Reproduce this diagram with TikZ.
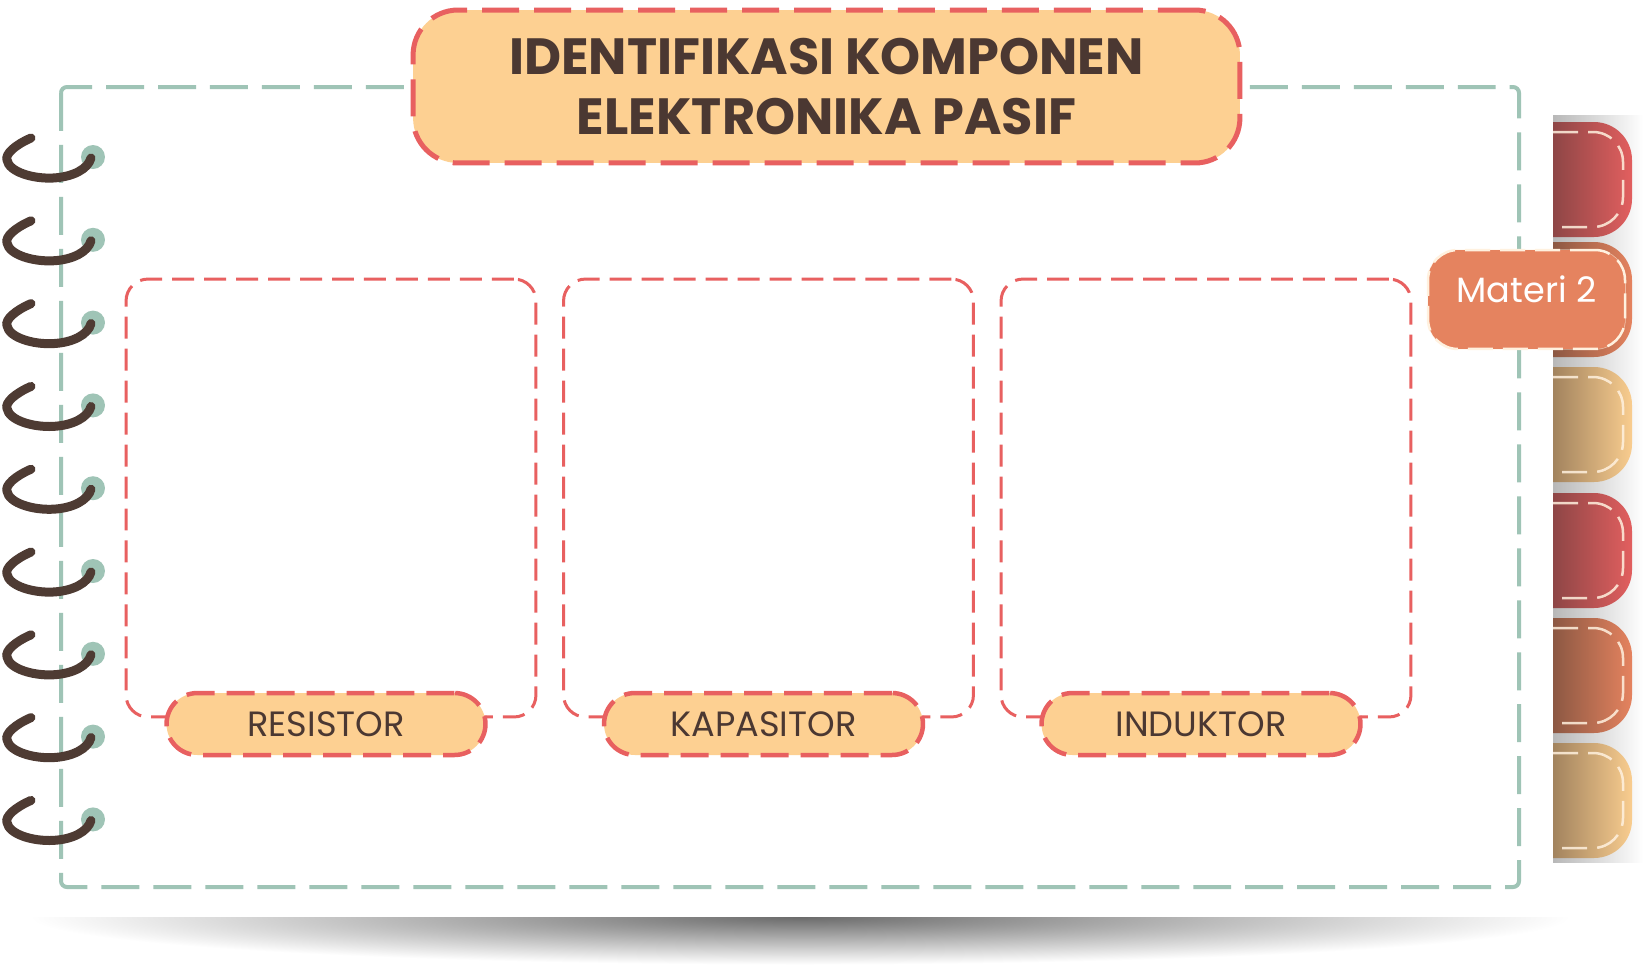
\documentclass[tikz,border=0pt]{standalone}
\usepackage{fontspec}
\setmainfont{Poppins}
\usetikzlibrary{calc}
\definecolor{sage}{HTML}{9FC4B6}
\definecolor{dashred}{HTML}{E86060}
\definecolor{peach}{HTML}{FDD092}
\definecolor{ink}{HTML}{4B3832}
\definecolor{hookbrown}{HTML}{4E3B33}
\definecolor{redL}{HTML}{8E4646}
\definecolor{redR}{HTML}{E25F5F}
\definecolor{orL}{HTML}{8C5843}
\definecolor{orR}{HTML}{E5835F}
\definecolor{peL}{HTML}{A2835E}
\definecolor{peR}{HTML}{F9CD8F}
\definecolor{materi}{HTML}{E5835F}
\definecolor{cream}{HTML}{FFF1DF}
\tikzset{
  greenframe/.style={draw=sage, line width=0.08cm, dash pattern=on 0.76cm off 0.28cm, rounded corners=0.12cm},
  titlebox/.style={draw=dashred, fill=peach, line width=0.1cm, dash pattern=on 0.74cm off 0.3cm, rounded corners=0.9cm,
    minimum width=16.54cm, minimum height=3.06cm, inner sep=0pt, align=center, text=ink,
    font=\fontsize{29}{34}\selectfont\bfseries},
  panelbox/.style={draw=dashred, line width=0.06cm, dash pattern=on 0.44cm off 0.2cm, rounded corners=0.44cm,
    minimum width=8.2cm, minimum height=8.76cm, inner sep=0pt},
  pillbox/.style={draw=dashred, fill=peach, line width=0.09cm, dash pattern=on 0.56cm off 0.24cm, rounded corners=0.62cm,
    minimum width=6.38cm, minimum height=1.24cm, inner sep=0pt, text=ink, font=\fontsize{20}{24}\selectfont},
  ringdot/.style={circle, fill=sage, minimum size=0.48cm, inner sep=0pt},
  hookline/.style={draw=hookbrown, line width=0.18cm, line cap=round},
  tabdash/.style={draw=cream, draw opacity=0.85, line width=0.05cm, dash pattern=on 0.5cm off 0.2cm},
  materibox/.style={fill=materi, draw=cream, line width=0.05cm, dash pattern=on 0.5cm off 0.2cm, rounded corners=0.6cm,
    minimum width=3.94cm, minimum height=1.98cm, inner sep=0pt, text=white, text depth=0.4cm,
    font=\fontsize{20}{24}\selectfont,
    preaction={draw=cream, draw opacity=0.6, solid, line width=0.03cm}}
}
\begin{document}
\begin{tikzpicture}[x=0.02cm, y=-0.02cm]
\useasboundingbox (0,0) rectangle (1643,971);
\fill[white] (0,0) rectangle (1643,971);

% shadow under the paper
\begin{scope}
  \clip (20,917) rectangle (1600,971);
  \shade[inner color=black!58, outer color=white] (800,917) ellipse (15.4cm and 0.95cm);
\end{scope}

% shadow strip behind the tabs
\shade[left color=black!28, right color=white] (1553,115) rectangle (1643,862);

% tabs
\foreach \t/\cl/\cr in {122/redL/redR, 242/orL/orR, 367/peL/peR, 493/redL/redR, 618/orL/orR, 743/peL/peR} {
  \pgfmathsetmacro\b{\t+115}
  \shade[left color=\cl, right color=\cr] (1553,\t) -- (1594,\t) arc[start angle=90, end angle=0, radius=0.76cm]
     -- (1632,\b-38) arc[start angle=0, end angle=-90, radius=0.76cm] -- (1553,\b) -- cycle;
  \draw[tabdash] (1553,\t+10) -- (1593,\t+10) arc[start angle=90, end angle=0, radius=0.6cm]
     -- (1623,\b-40) arc[start angle=0, end angle=-90, radius=0.6cm] -- (1553,\b-10);
}

% green dashed frame
\draw[greenframe] (61,87) rectangle (1519,887);

% title
\node[titlebox] (title) at (826.5,86.5) {IDENTIFIKASI KOMPONEN\\ELEKTRONIKA PASIF};

% panels
\node[panelbox] (p1) at (331,498) {};
\node[panelbox] (p2) at (768.5,498) {};
\node[panelbox] (p3) at (1206,498) {};

% labels
\node[pillbox] (l1) at (326,724) {RESISTOR};
\node[pillbox] (l2) at (763.5,724) {KAPASITOR};
\node[pillbox] (l3) at (1201,724) {INDUKTOR};

% Materi 2 tab
\node[materibox] (materi) at (1526.5,299.5) {Materi 2};

% spiral rings
\foreach \i in {0,...,8} {
  \pgfmathsetmacro\yy{157+82.8*\i}
  \node[ringdot] (ring\i) at (93,\yy) {};
  \begin{scope}[shift={(ring\i.center)}]
    \draw[hookline] (-62,-19) .. controls (-78,-12) and (-88,-3) .. (-86,3)
       .. controls (-84,15) and (-60,22) .. (-40,21)
       .. controls (-20,20) and (-5,12) .. (-2,1);
  \end{scope}
}
\end{tikzpicture}
\end{document}
